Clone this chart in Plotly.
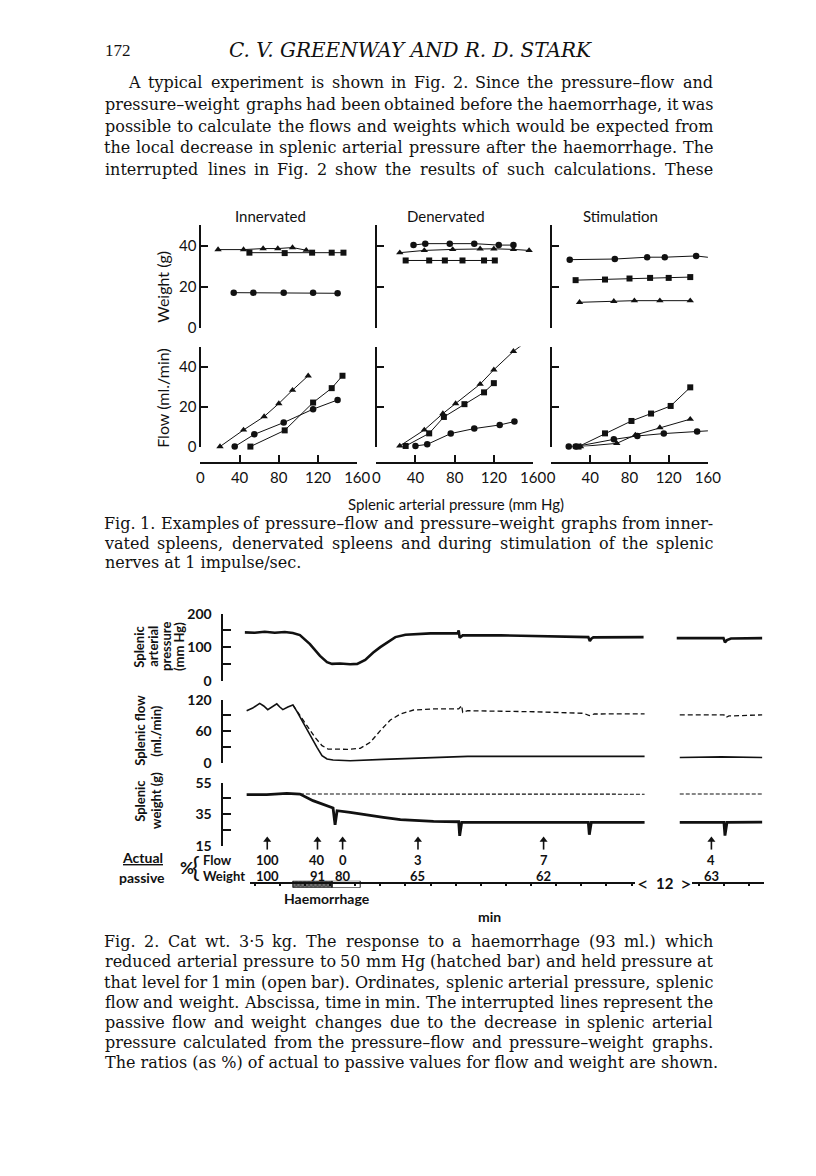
import plotly.graph_objects as go

# ---- page geometry -------------------------------------------------------------
# Targets below are page pixels of the reference. The browser adds an 8px body
# margin; a small empirical affine correction keeps rendered positions on target.
PAGE_OFF = 8
FW, FH = 800, 1160
SX, OX = 0.974, 5.7
SY, OY = 0.985, 8.7
def X(px): return ((px - OX) / SX - PAGE_OFF) / FW
def Y(py): return 1 - ((py - OY) / SY - PAGE_OFF) / FH

SERIF = "DejaVu Serif"
SANS = "Lato"
INK = "#111111"

# ---------------- Fig. 1 data (pressure mm Hg -> weight g / flow ml/min) ----------------
panel_titles = ["Innervated", "Denervated", "Stimulation"]

inn_w_circle_x = [34, 54, 85, 115, 140];            inn_w_circle_y = [17, 17, 17, 17, 16.7]
inn_w_square_x = [50, 86, 114, 134, 146];           inn_w_square_y = [36.5, 36.3, 36.5, 36.5, 36.5]
inn_w_tri_x = [18, 44, 64, 79, 94, 108];            inn_w_tri_y = [38, 38, 38.5, 38.5, 39, 37.7]
inn_f_tri_x = [20, 44, 65, 80, 94, 110];            inn_f_tri_y = [0, 8.3, 15, 21.5, 28.2, 35.4]
inn_f_circle_x = [35, 55, 85, 115, 140];            inn_f_circle_y = [0, 6.1, 12, 18.7, 23.3]
inn_f_square_x = [51, 86, 115, 134, 145];           inn_f_square_y = [0, 8.1, 22, 29.2, 35.4]

den_w_circle_x = [38, 50, 75, 100, 125, 140];       den_w_circle_y = [40.2, 40.9, 40.9, 40.9, 40.2, 40.2]
den_w_tri_x = [24, 49, 78, 106, 120, 140, 156];     den_w_tri_y = [36.5, 37.6, 38.1, 38.4, 38.4, 38.1, 37.6]
den_w_square_x = [30, 54, 70, 88, 110, 121];        den_w_square_y = [32.7, 32.7, 32.7, 32.7, 32.7, 32.7]
den_f_tri_x = [24, 49, 68, 81, 106, 120, 140, 157]; den_f_tri_y = [0.3, 8.3, 16.5, 21.5, 31.2, 38.4, 47.6, 53.8]
den_f_square_x = [30, 54, 69, 90, 110, 120];        den_f_square_y = [0.3, 6.6, 14.8, 21.2, 27.1, 31.7]
den_f_circle_x = [40, 52, 76, 100, 126, 141];       den_f_circle_y = [0.3, 1.1, 6.5, 9, 10.8, 12.5]

sti_w_circle_x = [19, 65, 98, 116, 148, 163];       sti_w_circle_y = [33.1, 33.4, 34.3, 34.3, 34.9, 34.1]
sti_w_square_x = [25, 55, 80, 101, 120, 142];       sti_w_square_y = [23.1, 23.4, 23.9, 24.2, 24.2, 24.6]
sti_w_tri_x = [29, 64, 85, 111, 142];               sti_w_tri_y = [12.3, 12.8, 13.1, 13.1, 13.1]
sti_f_circle_x = [18, 25, 64, 88, 115, 149, 168];   sti_f_circle_y = [0, 0, 3.6, 5.3, 6.5, 7.5, 8.1]
sti_f_tri_x = [30, 67, 86, 111, 142];               sti_f_tri_y = [0, 1.6, 5.8, 9.5, 13.7]
sti_f_square_x = [28, 55, 82, 102, 122, 142];       sti_f_square_y = [0, 6.6, 12.8, 16.5, 20.3, 29.6]

fig1_xticks = [0, 40, 80, 120, 160]
fig1_yticks = [0, 20, 40]

# ---------------- Fig. 2 data (time in min) ----------------
press_t = [-0.4, 0, 0.4, 0.8, 1.2, 1.52, 1.8, 2.2, 2.6, 2.88, 3.08, 3.4, 3.8, 4.08, 4.4, 4.72, 5.0, 5.28,
           5.6, 6.0, 6.48, 7.0, 7.6, 8.08, 8.12, 8.16, 8.28, 9.0, 9.8, 10.6, 11.4, 12.2, 13.0, 13.28,
           13.34, 13.4, 13.48, 14.2, 14.8, 15.48]
press_v = [144, 143, 146, 143, 145, 142, 136, 109, 74, 55, 50, 51, 49, 50, 62, 84, 100, 114,
           130, 137, 140, 141, 141, 141, 150, 128, 135, 136, 135, 134, 133, 131, 130, 130,
           118, 125, 129, 130, 129, 130]
press_t_b = [27.12, 28.1, 28.7, 28.98, 29.04, 29.12, 29.28, 29.9, 30.52]
press_v_b = [127, 128, 127, 127, 114, 121, 126, 127, 127]

flow_t = [-0.32, -0.08, 0.2, 0.36, 0.52, 0.72, 0.88, 1.0, 1.12, 1.32, 1.52, 1.68, 1.92, 2.2, 2.48, 2.68,
          2.88, 3.12, 3.8, 5.12, 6.48, 8.48, 11.1, 13.8, 15.52]
flow_v = [99, 104, 113, 108, 101, 108, 112, 106, 101, 106, 110, 97.8, 76.8, 54.6, 29.2, 13.3,
          7, 5, 3.8, 6.3, 9, 12, 12, 12, 12]
flow_t_b = [27.24, 28.9, 30.52]
flow_v_b = [10, 11, 10]

passive_flow_t = [1.52, 1.8, 2.08, 2.4, 2.68, 2.92, 3.68, 4.2, 4.6, 5.0, 5.4, 5.8, 6.32, 7.12, 8.12,
                  8.24, 8.28, 8.48, 11.1, 13.1, 13.32, 13.52, 15.52]
passive_flow_v = [110, 89.5, 70.5, 48.3, 32.4, 26, 25.4, 27.3, 38.7, 61, 81.3, 92.7, 100.3, 102.3, 102.3,
                  108.6, 95.8, 99, 97, 94, 89.5, 92.7, 93]
passive_flow_t_b = [27.24, 29.0, 29.08, 29.2, 30.52]
passive_flow_v_b = [91, 91, 86, 89, 91]

weight_t = [-0.32, 0.48, 1.28, 1.8, 2.32, 2.88, 3.12, 3.2, 3.28, 3.8, 4.48, 5.12, 5.8, 6.48, 7.12, 8.12,
            8.16, 8.24, 9.8, 13.28, 13.32, 13.4, 15.52]
weight_v = [47.4, 47.4, 48.2, 47.8, 43.6, 40.4, 38.9, 28.3, 37.2, 36.1, 34.7, 33.0, 31.5, 30.9, 30.4, 30.2,
            21.3, 29.8, 29.8, 29.8, 22.0, 29.8, 29.8]
weight_t_b = [27.24, 29.0, 29.04, 29.12, 30.52]
weight_v_b = [29.8, 29.8, 21.4, 29.8, 30.0]

passive_weight_t = [1.8, 8.0, 15.52]
passive_weight_v = [47.8, 47.7, 47.7]
passive_weight_t_b = [27.24, 30.52]
passive_weight_v_b = [47.8, 47.8]

haem_hatched = [1.52, 3.08]
haem_open = [3.08, 4.2]
arrow_t = [0.5, 2.5, 3.5, 6.5, 11.5]
arrow_t_b = [28.5]
pct_flow = ["100", "40", "0", "3", "7"]
pct_weight = ["100", "91", "80", "65", "62"]
pct_flow_b = ["4"]
pct_weight_b = ["63"]
time_ticks_a = list(range(0, 16))
time_ticks_b = [28, 29, 30]

press_ticks = [0, 50, 100, 150, 200];  press_ticktext = ["0", "", "100", "", "200"]
flow_ticks = [0, 30, 60, 90, 120];     flow_ticktext = ["0", "", "60", "", "120"]
wt_ticks = [15, 25, 35, 45, 55];       wt_ticktext = ["15", "", "35", "", "55"]

# ---------------- text ----------------
header_num = "172"
header_title = "C. V. GREENWAY AND R. D. STARK"
body_lines = [
    "A typical experiment is shown in Fig. 2. Since the pressure\u2013flow and",
    "pressure\u2013weight graphs had been obtained before the haemorrhage, it was",
    "possible to calculate the flows and weights which would be expected from",
    "the local decrease in splenic arterial pressure after the haemorrhage. The",
    "interrupted lines in Fig. 2 show the results of such calculations. These",
]
cap1_lines = [
    "Fig. 1. Examples of pressure\u2013flow and pressure\u2013weight graphs from inner-",
    "vated spleens, denervated spleens and during stimulation of the splenic",
    "nerves at 1 impulse/sec.",
]
cap2_lines = [
    "Fig. 2. Cat wt. 3\u00b75 kg. The response to a haemorrhage (93 ml.) which",
    "reduced arterial pressure to 50 mm Hg (hatched bar) and held pressure at",
    "that level for 1 min (open bar). Ordinates, splenic arterial pressure, splenic",
    "flow and weight. Abscissa, time in min. The interrupted lines represent the",
    "passive flow and weight changes due to the decrease in splenic arterial",
    "pressure calculated from the pressure\u2013flow and pressure\u2013weight graphs.",
    "The ratios (as %) of actual to passive values for flow and weight are shown.",
]

# ---------------- build ----------------
layout = dict(width=FW, height=FH, autosize=False, margin=dict(l=0, r=0, t=0, b=0, pad=0),
              paper_bgcolor="white", plot_bgcolor="rgba(0,0,0,0)", showlegend=False)
traces = []
annotations = []
xc = [0]; yc = [0]

def new_x(**kw):
    xc[0] += 1
    s = "" if xc[0] == 1 else str(xc[0])
    base = dict(showgrid=False, zeroline=False)
    base.update(kw)
    layout["xaxis" + s] = base
    return "x" + s

def new_y(**kw):
    yc[0] += 1
    s = "" if yc[0] == 1 else str(yc[0])
    base = dict(showgrid=False, zeroline=False)
    base.update(kw)
    layout["yaxis" + s] = base
    return "y" + s

def txt(s, px, py, size=15, family=SERIF, xanchor="center", angle=0, weight="normal"):
    annotations.append(dict(text=s, x=X(px), y=Y(py), xref="paper", yref="paper", showarrow=False,
                            xanchor=xanchor, yanchor="middle", textangle=angle, borderpad=0,
                            font=dict(family=family, size=size, color=INK, weight=weight)))

# approximate advance widths (em) of the serif face, used to justify lines
ADV = {" ": .318, "!": .402, "(": .390, ")": .390, ",": .318, "-": .338, ".": .318, "/": .337,
       ":": .337, ";": .337, "%": .950, "\u2013": .500, "\u00b7": .318,
       "A": .722, "B": .735, "C": .765, "D": .802, "E": .730, "F": .694, "G": .799, "H": .872,
       "I": .395, "J": .401, "K": .747, "L": .664, "M": 1.024, "N": .875, "O": .820, "P": .673,
       "Q": .820, "R": .753, "S": .685, "T": .667, "U": .843, "V": .722, "W": 1.028, "X": .712,
       "Y": .660, "Z": .695,
       "a": .596, "b": .640, "c": .560, "d": .640, "e": .592, "f": .370, "g": .640, "h": .644,
       "i": .320, "j": .310, "k": .606, "l": .320, "m": .948, "n": .644, "o": .602, "p": .640,
       "q": .640, "r": .478, "s": .513, "t": .402, "u": .644, "v": .565, "w": .856, "x": .564,
       "y": .565, "z": .527}
WIDTH_FUDGE = 1.02
def word_em(w):
    return sum(ADV.get(c, 0.636) for c in w) * WIDTH_FUDGE

def justified(line, left, right, py, size, min_gap=3.0):
    words = line.split()
    ems = [word_em(w) for w in words]
    n = len(words) - 1
    size = min(size, (right - left - min_gap * n) / sum(ems))
    ws = [e * size for e in ems]
    gap = (right - left - sum(ws)) / n
    x = left
    for w, wd in zip(words, ws):
        txt(w, x + wd / 2, py, size=size, family=SERIF, xanchor="center")
        x += wd + gap

axis_style = dict(showline=True, linewidth=2, linecolor=INK, ticks="inside", ticklen=7,
                  tickwidth=2, tickcolor=INK)

# Fig. 1 panels
panels = [
    dict(w=[(inn_w_tri_x, inn_w_tri_y, "triangle-up"), (inn_w_square_x, inn_w_square_y, "square"),
            (inn_w_circle_x, inn_w_circle_y, "circle")],
         f=[(inn_f_tri_x, inn_f_tri_y, "triangle-up"), (inn_f_circle_x, inn_f_circle_y, "circle"),
            (inn_f_square_x, inn_f_square_y, "square")]),
    dict(w=[(den_w_circle_x, den_w_circle_y, "circle"), (den_w_tri_x, den_w_tri_y, "triangle-up"),
            (den_w_square_x, den_w_square_y, "square")],
         f=[(den_f_tri_x, den_f_tri_y, "triangle-up"), (den_f_square_x, den_f_square_y, "square"),
            (den_f_circle_x, den_f_circle_y, "circle")]),
    dict(w=[(sti_w_circle_x, sti_w_circle_y, "circle"), (sti_w_square_x, sti_w_square_y, "square"),
            (sti_w_tri_x, sti_w_tri_y, "triangle-up")],
         f=[(sti_f_circle_x, sti_f_circle_y, "circle"), (sti_f_tri_x, sti_f_tri_y, "triangle-up"),
            (sti_f_square_x, sti_f_square_y, "square")]),
]
x0s = [201, 376, 550]
PW = 156
msize = {"circle": 6.5, "square": 6, "triangle-up": 6.5}
f1_tickfont = dict(family=SANS, size=15, color=INK)
for i, (p, x0) in enumerate(zip(panels, x0s)):
    dom = [X(x0), X(x0 + PW)]
    xw = new_x(domain=dom, range=[0, 160], visible=False, anchor="free", position=0)
    yw = new_y(domain=[Y(327), Y(224.5)], range=[0, 50], anchor="free", position=X(x0),
               tickvals=fig1_yticks, showticklabels=(i == 0), tickfont=f1_tickfont, **axis_style)
    xf = new_x(domain=dom, range=[0, 160], anchor="free", position=Y(462), tickvals=fig1_xticks,
               tickfont=f1_tickfont, ticklabelstandoff=1, **axis_style)
    yf = new_y(domain=[Y(446), Y(346)], range=[0, 50], anchor="free", position=X(x0),
               tickvals=fig1_yticks, showticklabels=(i == 0), tickfont=f1_tickfont, **axis_style)
    for (xs, ys, sym) in p["w"]:
        traces.append(go.Scatter(x=xs, y=ys, xaxis=xw, yaxis=yw, mode="lines+markers", cliponaxis=False,
                                 line=dict(color=INK, width=1), hoverinfo="skip",
                                 marker=dict(symbol=sym, size=msize[sym], color=INK)))
    for (xs, ys, sym) in p["f"]:
        traces.append(go.Scatter(x=xs, y=ys, xaxis=xf, yaxis=yf, mode="lines+markers", cliponaxis=False,
                                 line=dict(color=INK, width=1), hoverinfo="skip",
                                 marker=dict(symbol=sym, size=msize[sym], color=INK)))

for t, cx in zip(panel_titles, [271, 445, 619]):
    txt(t, cx, 216, size=15, family=SANS)
txt("Weight (g)", 163, 286, size=16, family=SANS, angle=-90)
txt("Flow (ml./min)", 163, 397, size=16, family=SANS, angle=-90)
txt("Splenic arterial pressure (mm Hg)", 455, 503, size=15, family=SANS)

# Fig. 2
f2_tickfont = dict(family=SANS, size=14, color=INK, weight="bold")
f2_axis = dict(showline=True, linewidth=2, linecolor=INK, ticks="inside", ticklen=8, tickwidth=2,
               tickcolor=INK, tickfont=f2_tickfont, ticklabelstandoff=6)
xa = new_x(domain=[X(245), X(645)], range=[-0.4, 15.6], visible=False, anchor="free", position=0)
xb = new_x(domain=[X(672), X(762)], range=[27, 30.6], visible=False, anchor="free", position=0)
yp = new_y(domain=[Y(680), Y(613)], range=[0, 200], anchor="free", position=X(222),
           tickvals=press_ticks, ticktext=press_ticktext, **f2_axis)
yfl = new_y(domain=[Y(762), Y(699)], range=[0, 120], anchor="free", position=X(222),
            tickvals=flow_ticks, ticktext=flow_ticktext, **f2_axis)
ywt = new_y(domain=[Y(845), Y(782)], range=[15, 55], anchor="free", position=X(222),
            tickvals=wt_ticks, ticktext=wt_ticktext, **f2_axis)
xta = new_x(domain=[X(250), X(633)], range=[-0.2, 15.12], anchor="free", position=Y(882),
            showline=True, linewidth=1.5, linecolor=INK, ticks="outside", ticklen=3, tickwidth=1.5,
            tickcolor=INK, tickvals=time_ticks_a, showticklabels=False)
xtb = new_x(domain=[X(690), X(762)], range=[27.72, 30.6], anchor="free", position=Y(882),
            showline=True, linewidth=1.5, linecolor=INK, ticks="outside", ticklen=3, tickwidth=1.5,
            tickcolor=INK, tickvals=time_ticks_b, showticklabels=False)
ybar = new_y(domain=[Y(887), Y(880)], range=[0, 1], visible=False, anchor="free", position=0)
yarr = new_y(domain=[Y(849), Y(837)], range=[0, 1], visible=False, anchor="free", position=0)

def line_trace(xs, ys, xax, yax, width, dash="solid"):
    traces.append(go.Scatter(x=xs, y=ys, xaxis=xax, yaxis=yax, mode="lines", cliponaxis=False,
                             hoverinfo="skip", line=dict(color=INK, width=width, dash=dash)))

line_trace(press_t, press_v, xa, yp, 2.6)
line_trace(press_t_b, press_v_b, xb, yp, 2.6)
line_trace(passive_flow_t, passive_flow_v, xa, yfl, 1.3, "5px,3px")
line_trace(passive_flow_t_b, passive_flow_v_b, xb, yfl, 1.3, "5px,3px")
line_trace(flow_t, flow_v, xa, yfl, 1.6)
line_trace(flow_t_b, flow_v_b, xb, yfl, 1.6)
line_trace(passive_weight_t, passive_weight_v, xa, ywt, 1.1, "4px,2px")
line_trace(passive_weight_t_b, passive_weight_v_b, xb, ywt, 1.1, "4px,2px")
line_trace(weight_t, weight_v, xa, ywt, 2.8)
line_trace(weight_t_b, weight_v_b, xb, ywt, 2.8)

# haemorrhage bars
h0, h1 = haem_hatched
traces.append(go.Scatter(x=[h0, h1, h1, h0, h0], y=[0, 0, 1, 1, 0], xaxis=xta, yaxis=ybar, mode="lines",
                         fill="toself", fillcolor="#555555", hoverinfo="skip",
                         fillpattern=dict(shape="x", fgcolor=INK, bgcolor="#777777", size=3, solidity=0.5),
                         line=dict(color=INK, width=1), cliponaxis=False))
o0, o1 = haem_open
traces.append(go.Scatter(x=[o0, o1, o1, o0, o0], y=[0, 0, 1, 1, 0], xaxis=xta, yaxis=ybar, mode="lines",
                         hoverinfo="skip", line=dict(color=INK, width=1), cliponaxis=False))
traces.append(go.Scatter(x=[None], y=[None], xaxis=xtb, yaxis=ybar, mode="lines", hoverinfo="skip"))

# arrows (shaft + head) and percentages
ROW_FLOW, ROW_WEIGHT = 859, 875
def arrows(ts, fl, wt, xref):
    sx, sy = [], []
    for t in ts:
        sx += [t, t, None]; sy += [0, 0.85, None]
    traces.append(go.Scatter(x=sx, y=sy, xaxis=xref, yaxis=yarr, mode="lines", hoverinfo="skip",
                             line=dict(color=INK, width=1.6), cliponaxis=False))
    traces.append(go.Scatter(x=ts, y=[0.8] * len(ts), xaxis=xref, yaxis=yarr, mode="markers",
                             hoverinfo="skip", cliponaxis=False,
                             marker=dict(symbol="triangle-up", size=7, color=INK)))
    pct_font = dict(family=SANS, size=13, color=INK, weight="bold")
    for t, a, b in zip(ts, fl, wt):
        annotations.append(dict(x=t, y=Y(ROW_FLOW), xref=xref, yref="paper", text=a, showarrow=False,
                                yanchor="middle", font=pct_font))
        annotations.append(dict(x=t, y=Y(ROW_WEIGHT), xref=xref, yref="paper", text=b, showarrow=False,
                                yanchor="middle", font=pct_font))
arrows(arrow_t, pct_flow, pct_weight, xta)
arrows(arrow_t_b, pct_flow_b, pct_weight_b, xtb)

B = "bold"
for s, px in [("Splenic", 140), ("arterial", 153), ("pressure", 166), ("(mm Hg)", 179)]:
    txt(s, px, 646, size=13, family=SANS, angle=-90, weight=B)
for s, px in [("Splenic flow", 141), ("(ml./min)", 156)]:
    txt(s, px, 730, size=13, family=SANS, angle=-90, weight=B)
for s, px in [("Splenic", 141), ("weight (g)", 156)]:
    txt(s, px, 800, size=13, family=SANS, angle=-90, weight=B)
txt("<u>Actual</u>", 143, 857, size=14, family=SANS, weight=B)
txt("passive", 143, 877, size=14, family=SANS, weight=B)
txt("%", 188, 867, size=17, family=SANS, weight=B)
txt("{", 197, 866, size=26, family=SANS)
txt("Flow", 203, ROW_FLOW, size=13, family=SANS, xanchor="left", weight=B)
txt("Weight", 203, ROW_WEIGHT, size=13, family=SANS, xanchor="left", weight=B)
txt("Haemorrhage", 327, 898, size=14, family=SANS, weight=B)
txt("min", 489, 916, size=14, family=SANS, weight=B)
txt("<", 641, 882, size=20, family=SANS)
txt("12", 663, 882, size=15, family=SANS, weight=B)
txt(">", 684, 882, size=20, family=SANS)

# page text
LEFT, RIGHT = 105, 712
txt(header_num, 105, 50, size=17, family="Liberation Serif", xanchor="left")
txt("<i>" + header_title + "</i>", 410, 50, size=20, family=SERIF)
for k, line in enumerate(body_lines):
    justified(line, 130 if k == 0 else LEFT, RIGHT, 82 + k * 21.8, 16)
for k, line in enumerate(cap1_lines):
    if k < len(cap1_lines) - 1:
        justified(line, LEFT, RIGHT, 523 + k * 19.5, 16)
    else:
        txt(line, LEFT, 523 + k * 19.5, size=16, family=SERIF, xanchor="left")
for k, line in enumerate(cap2_lines):
    if k < len(cap2_lines) - 1:
        justified(line, LEFT, RIGHT, 941 + k * 20.2, 16)
    else:
        txt(line, LEFT, 941 + k * 20.2, size=16, family=SERIF, xanchor="left")

layout["annotations"] = annotations
fig = go.Figure(data=traces, layout=layout)
fig.write_html("out.html")
